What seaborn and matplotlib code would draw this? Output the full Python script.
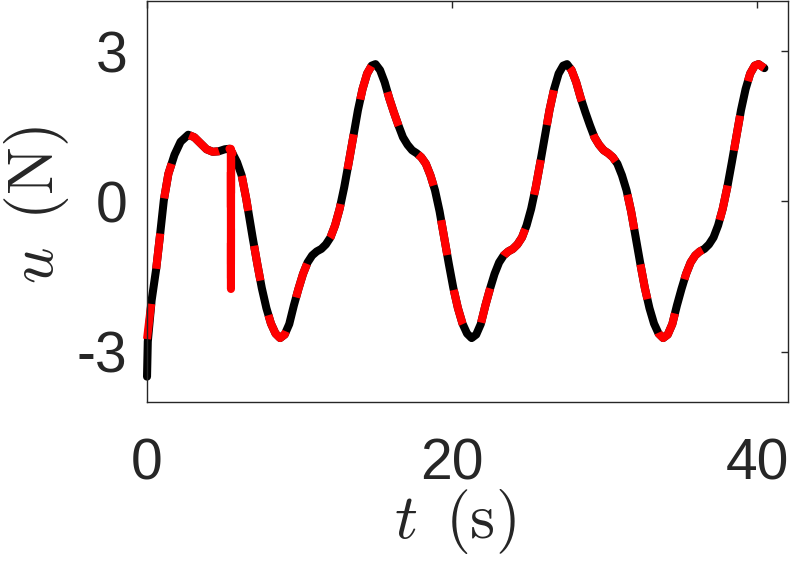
import matplotlib
matplotlib.use("Agg")
import matplotlib.pyplot as plt
import seaborn as sns
import pandas as pd

# reference input (black)
t_ref = [0.00, 0.05, 0.30, 0.60, 0.85, 1.10, 1.40, 1.80, 2.20, 2.70, 3.10, 3.50, 3.90, 4.30, 4.70, 5.10, 5.40,
         5.60, 5.90, 6.20, 6.50, 6.92, 7.22, 7.52, 7.82, 8.12, 8.42, 8.72, 9.02, 9.32, 9.62, 9.92, 10.22,
         10.52, 10.82, 11.12, 11.42, 11.72, 12.02, 12.32, 12.62, 12.92, 13.22, 13.52, 13.82, 14.12, 14.42,
         14.72, 14.97, 15.27, 15.57, 15.87, 16.17, 16.47, 16.77, 17.07, 17.37, 17.67, 17.97, 18.27, 18.57,
         18.87, 19.17, 19.47, 19.77, 20.07, 20.37, 20.67, 20.97, 21.27, 21.57, 21.87, 22.17, 22.47, 22.77,
         23.07, 23.37, 23.67, 23.97, 24.27, 24.57, 24.87, 25.17, 25.47, 25.77, 26.07, 26.37, 26.67, 26.97,
         27.27, 27.52, 27.82, 28.12, 28.42, 28.72, 29.02, 29.32, 29.62, 29.92, 30.22, 30.52, 30.82, 31.12,
         31.42, 31.72, 32.02, 32.32, 32.62, 32.92, 33.22, 33.52, 33.82, 34.12, 34.42, 34.72, 35.02, 35.32,
         35.62, 35.92, 36.22, 36.52, 36.82, 37.12, 37.42, 37.72, 38.02, 38.32, 38.62, 38.92, 39.22, 39.52,
         39.82, 40.07, 40.45]
u_ref = [-3.50, -2.80, -1.98, -1.35, -0.68, 0.02, 0.55, 0.93, 1.19, 1.33, 1.28, 1.16, 1.04, 0.99, 1.00, 1.04, 1.05,
         0.96, 0.78, 0.52, 0.05, -0.72, -1.24, -1.73, -2.13, -2.44, -2.64, -2.73, -2.66, -2.45, -2.08, -1.75, -1.45,
         -1.22, -1.08, -1.00, -0.95, -0.86, -0.72, -0.48, -0.15, 0.28, 0.78, 1.30, 1.82, 2.24, 2.55,
         2.71, 2.74, 2.62, 2.38, 2.06, 1.78, 1.52, 1.28, 1.13, 1.02, 0.96, 0.88, 0.75, 0.52,
         0.22, -0.20, -0.72, -1.24, -1.73, -2.13, -2.44, -2.64, -2.73, -2.66, -2.45, -2.08, -1.75, -1.45,
         -1.22, -1.08, -1.00, -0.95, -0.86, -0.72, -0.48, -0.15, 0.28, 0.78, 1.30, 1.82, 2.24, 2.55,
         2.71, 2.74, 2.62, 2.38, 2.06, 1.78, 1.52, 1.28, 1.13, 1.02, 0.96, 0.88, 0.75, 0.52,
         0.22, -0.20, -0.72, -1.24, -1.73, -2.13, -2.44, -2.64, -2.73, -2.66, -2.45, -2.08, -1.75, -1.45,
         -1.22, -1.08, -1.00, -0.95, -0.86, -0.72, -0.48, -0.15, 0.28, 0.78, 1.30, 1.82, 2.24, 2.55,
         2.71, 2.74, 2.66]

# actual input (red dashed): different start value and a glitch near t = 5.5 s
t_act = [0.00, 0.30, 0.60, 0.85, 1.10, 1.40, 1.80, 2.20, 2.70, 3.10, 3.50, 3.90, 4.30, 4.70, 5.10, 5.40,
         5.49, 5.50, 5.51, 5.60] + t_ref[18:]
u_act = [-2.75, -1.98, -1.35, -0.68, 0.02, 0.55, 0.93, 1.19, 1.33, 1.28, 1.16, 1.04, 0.99, 1.00, 1.04, 1.05,
         1.05, -1.75, 1.02, 0.96] + u_ref[18:]

x_ticks = [0, 20, 40]
y_ticks = [-3, 0, 3]
x_tick_labels = ["0", "20", "40"]
y_tick_labels = ["-3", "0", "3"]

sns.set_theme(style="white")
plt.rcParams["font.family"] = ["Liberation Sans", "DejaVu Sans"]
plt.rcParams["mathtext.fontset"] = "cm"

axis_color = "#262626"
lw = 5.8

fig = plt.figure(figsize=(7.93, 5.70), dpi=100)
ax = fig.add_axes([0.1854, 0.2953, 0.8083, 0.7029])

df_ref = pd.DataFrame({"t": t_ref, "u": u_ref})
df_act = pd.DataFrame({"t": t_act, "u": u_act})

sns.lineplot(data=df_ref, x="t", y="u", ax=ax, color="black", linewidth=lw,
             estimator=None, sort=False, errorbar=None, clip_on=False)
# the glitch of the actual input shows as one solid red stroke
sns.lineplot(data=df_act.iloc[15:20], x="t", y="u", ax=ax, color="#ff0000", linewidth=lw,
             estimator=None, sort=False, errorbar=None, solid_capstyle="round")
sns.lineplot(data=df_act, x="t", y="u", ax=ax, color="#ff0000", linewidth=lw,
             estimator=None, sort=False, errorbar=None, linestyle=(0, (4.4, 4.4)), clip_on=False)

ax.set_xlim(0, 42)
ax.set_ylim(-4, 4)
ax.set_xticks(x_ticks)
ax.set_xticklabels(x_tick_labels)
ax.set_yticks(y_ticks)
ax.set_yticklabels(y_tick_labels)

for side in ["left", "right", "top", "bottom"]:
    ax.spines[side].set_visible(True)
    ax.spines[side].set_color(axis_color)
    ax.spines[side].set_linewidth(1.0)

ax.tick_params(axis="both", direction="in", top=True, right=True, length=5, width=1.0,
               color=axis_color, labelcolor=axis_color, labelsize=41)
ax.tick_params(axis="x", pad=26)
ax.tick_params(axis="y", pad=14)

ax.set_xlabel(r"$t\ \,(\mathrm{s})$", fontsize=46, color=axis_color)
ax.set_ylabel(r"$u\ \,(\mathrm{N})$", fontsize=46, color=axis_color)
ax.xaxis.label.set_verticalalignment("center")
ax.yaxis.label.set_verticalalignment("center")
ax.xaxis.set_label_coords(0.48, -0.30)
ax.yaxis.set_label_coords(-0.172, 0.49)

fig.savefig("out.png", dpi=100)
